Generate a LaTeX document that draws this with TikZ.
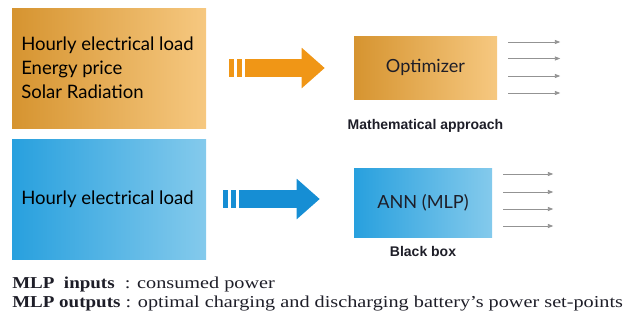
\documentclass[tikz,border=0pt]{standalone}
\usepackage{fontspec}
\setmainfont{Liberation Serif}[FakeStretch=1.215,BoldFeatures={FakeStretch=1.14}]
\newfontfamily\boxfont{Lato}
\newfontfamily\labfont{Liberation Sans}
\usetikzlibrary{arrows.meta,positioning,calc}
\definecolor{sand}{RGB}{214,148,48}
\definecolor{sandlight}{RGB}{246,200,128}
\definecolor{sky}{RGB}{40,160,222}
\definecolor{skylight}{RGB}{132,202,236}
\definecolor{tangerine}{RGB}{240,150,22}
\definecolor{azure}{RGB}{22,142,212}
\definecolor{ink}{RGB}{30,30,40}
\tikzset{
  x=0.75pt,y=-0.75pt,
  panel/.style={left color=#1,right color=#1light,minimum width=194*0.75pt,
    minimum height=120*0.75pt,inner sep=0pt,text=ink},
  panel/.default=sand,
  solver/.style={left color=#1,right color=#1light,inner sep=0pt,text=ink,
    font=\boxfont\fontsize{13.6}{16}\selectfont},
  solver/.default=sand,
  fat arrow/.style={draw=#1,line width=18*0.75pt,
    dash pattern=on 5*0.75pt off 3*0.75pt on 5*0.75pt off 3*0.75pt on 200pt,
    -{Triangle[length=23*0.75pt,width=39*0.75pt,fill=#1]}},
  out arrow/.style={draw=gray!85,line width=0.6pt,-{Triangle[length=4pt,width=3pt]}},
  caption/.style={font=\labfont\bfseries\fontsize{10.5}{12}\selectfont,text=ink},
  intext/.style={font=\boxfont\fontsize{13.9}{18}\selectfont,align=left,anchor=west,inner sep=0pt},
}
\begin{document}
\begin{tikzpicture}
  \useasboundingbox (0,0) rectangle (631,322);
  % upper row: optimizer
  \node[panel] (data) at (109,68) {};
  \node[intext] (datatxt) at (21,68) {Hourly electrical load\\Energy price\\Solar Radiation};
  \node[solver,minimum width=143*0.75pt,minimum height=63*0.75pt] (opt) at (425.5,67.5) {Optimizer};
  \node[caption,below=15*0.75pt of opt] (math) {Mathematical approach};
  \draw[fat arrow=tangerine,shorten <=23*0.75pt,shorten >=29*0.75pt] (data.east) -- (data.east -| opt.west);
  \foreach \dy in {-25.5,-9,8.5,25.5}
    \draw[out arrow] ([shift={(11,\dy)}]opt.east) -- ++(52,0);
  % lower row: neural network
  \node[panel=sky] (load) at (109,199) {};
  \node[intext] (loadtxt) at (21,199) {Hourly electrical load};
  \node[solver=sky,minimum width=138*0.75pt,minimum height=69*0.75pt] (ann) at (423,202.5) {ANN (MLP)};
  \node[caption,below=4*0.75pt of ann] (bbox) {Black box};
  \draw[fat arrow=azure,shorten <=17*0.75pt,shorten >=34*0.75pt] (load.east) -- (load.east -| ann.west);
  \foreach \dy in {-28.5,-10.5,6.5,23.5}
    \draw[out arrow] ([shift={(11,\dy)}]ann.east) -- ++(50,0);
  % legend
  \node[anchor=north west,inner sep=0pt,align=left,font=\fontsize{12.5}{14.25}\selectfont,text=ink] (legend) at (12,277)
    {\textbf{MLP\ \ inputs}\ \ : consumed power\\
     \textbf{MLP outputs} : optimal charging and discharging battery's power set-points};
\end{tikzpicture}
\end{document}
